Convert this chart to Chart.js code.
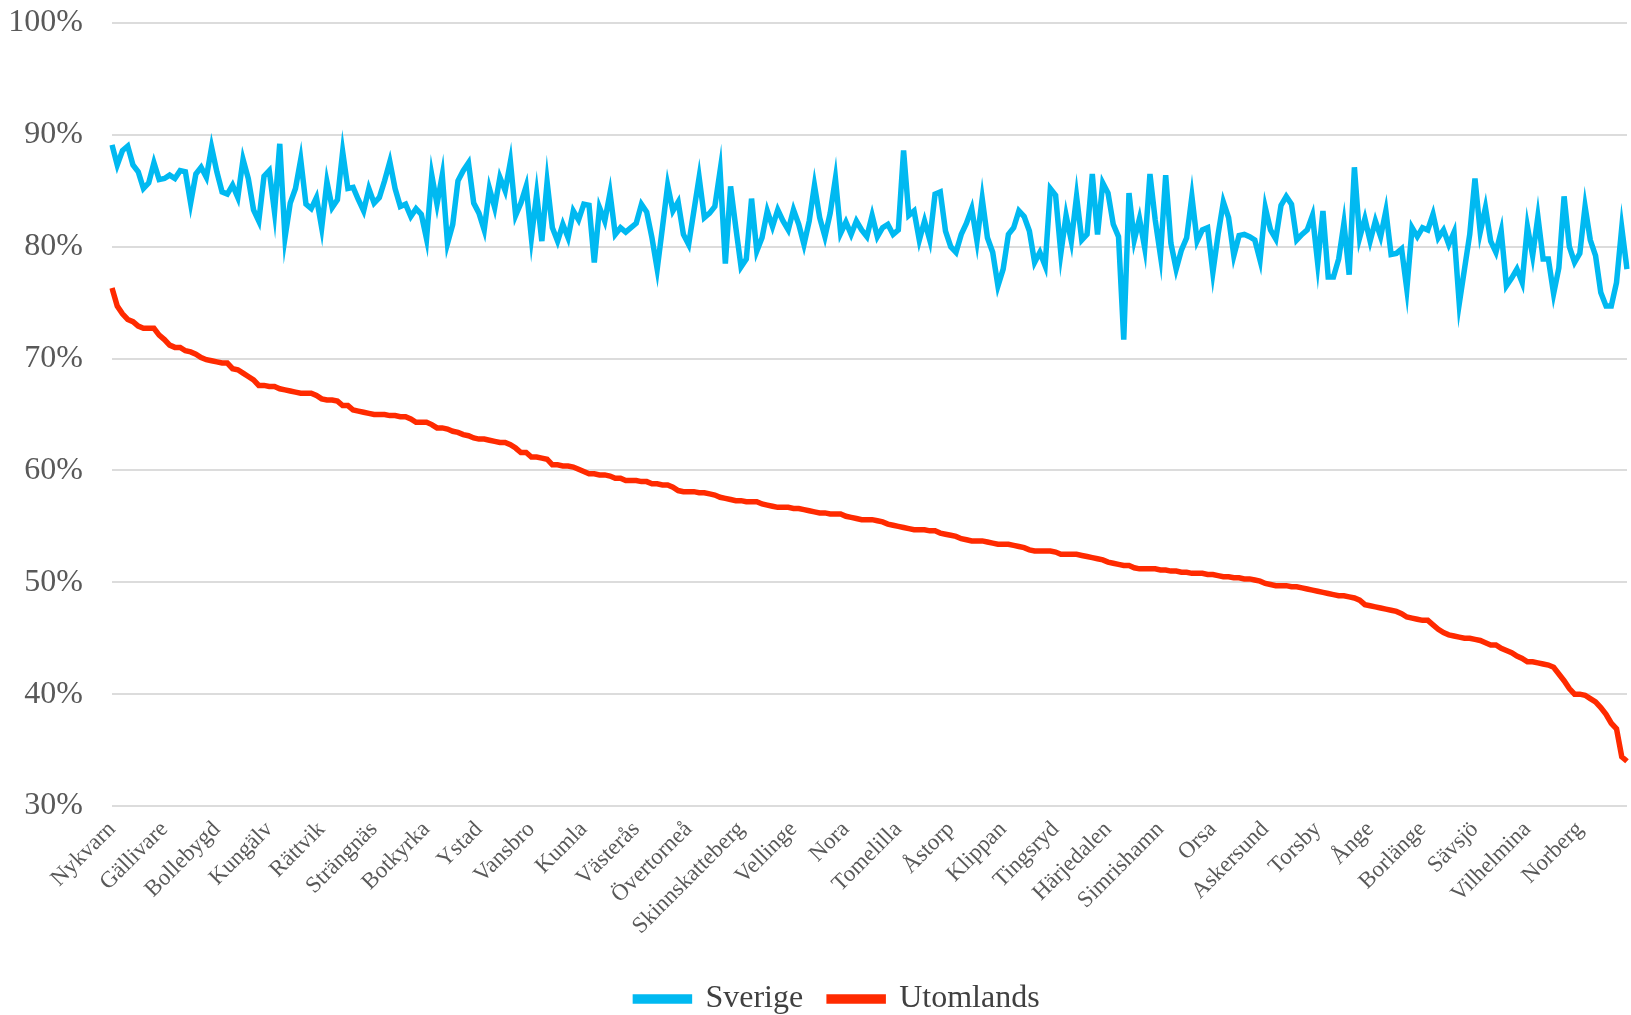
<!DOCTYPE html>
<html>
<head>
<meta charset="utf-8">
<script src="https://cdn.jsdelivr.net/npm/chart.js@4/dist/chart.umd.min.js"></script>
<style>
  html, body { margin: 0; padding: 0; background: #fff; }
  #wrap { width: 1631px; height: 1015px; }
</style>
</head>
<body>
<div id="wrap"><canvas id="chart" width="1631" height="1015"></canvas></div>
<script>
// every 10th municipality is labelled on the axis
const tickNames = ['Nykvarn', 'Gällivare', 'Bollebygd', 'Kungälv', 'Rättvik', 'Strängnäs', 'Botkyrka', 'Ystad',
  'Vansbro', 'Kumla', 'Västerås', 'Övertorneå', 'Skinnskatteberg', 'Vellinge', 'Nora', 'Tomelilla', 'Åstorp',
  'Klippan', 'Tingsryd', 'Härjedalen', 'Simrishamn', 'Orsa', 'Askersund', 'Torsby', 'Ånge', 'Borlänge', 'Sävsjö',
  'Vilhelmina', 'Norberg'];

const sverige = [
  89.1, 87.3, 88.6, 89.0, 87.3, 86.7, 85.2, 85.7, 87.5, 86.0,
  86.1, 86.4, 86.1, 86.8, 86.7, 83.9, 86.5, 87.1, 86.2, 88.9,
  86.7, 84.9, 84.7, 85.5, 84.4, 87.8, 86.1, 83.3, 82.3, 86.3,
  86.8, 83.1, 89.2, 80.8, 83.9, 85.2, 87.8, 83.8, 83.4, 84.4,
  81.7, 85.8, 83.5, 84.2, 88.5, 85.2, 85.3, 84.2, 83.2, 85.2,
  83.9, 84.4, 85.9, 87.6, 85.2, 83.6, 83.8, 82.7, 83.4, 82.9,
  80.7, 86.4, 83.8, 86.4, 80.3, 82.0, 85.9, 86.8, 87.5, 83.9,
  83.0, 81.5, 85.2, 83.5, 86.2, 85.0, 87.6, 82.8, 83.9, 85.4,
  80.8, 84.7, 80.5, 85.8, 81.7, 80.5, 82.0, 80.8, 83.2, 82.4,
  83.8, 83.7, 78.6, 83.5, 82.3, 84.8, 81.1, 81.7, 81.3, 81.7,
  82.1, 83.8, 83.1, 80.8, 78.0, 81.7, 85.5, 83.2, 84.0, 81.1,
  80.2, 83.2, 86.2, 82.6, 83.0, 83.6, 86.8, 78.5, 85.4, 81.7,
  78.2, 78.9, 84.3, 79.6, 80.8, 83.2, 81.8, 83.3, 82.3, 81.5,
  83.3, 82.0, 80.2, 82.3, 85.5, 82.6, 80.9, 83.0, 86.1, 81.2,
  82.2, 81.1, 82.3, 81.5, 80.9, 82.8, 80.9, 81.7, 82.0, 81.1,
  81.5, 88.6, 82.8, 83.2, 80.6, 82.3, 80.6, 84.7, 84.9, 81.4,
  80.0, 79.5, 81.1, 82.1, 83.4, 80.5, 84.3, 80.8, 79.5, 76.5,
  78.0, 81.1, 81.7, 83.2, 82.7, 81.4, 78.6, 79.5, 78.3, 85.2,
  84.6, 79.4, 82.8, 80.5, 84.5, 80.6, 81.1, 86.5, 81.1, 85.7,
  84.8, 82.0, 80.9, 71.7, 84.8, 80.6, 82.5, 79.9, 86.5, 82.4,
  79.2, 86.4, 80.3, 78.0, 79.7, 80.8, 84.5, 80.5, 81.5, 81.7,
  77.7, 81.1, 84.0, 82.6, 79.2, 81.0, 81.1, 80.9, 80.6, 78.8,
  83.5, 81.5, 80.7, 83.7, 84.5, 83.8, 80.6, 81.1, 81.5, 82.8,
  78.5, 83.2, 77.3, 77.3, 78.9, 82.1, 77.5, 87.1, 80.8, 82.5,
  80.5, 82.3, 80.9, 83.2, 79.3, 79.4, 79.8, 76.2, 81.7, 80.9,
  81.7, 81.5, 82.9, 80.8, 81.5, 80.2, 81.3, 74.9, 78.0, 81.1,
  86.1, 81.3, 83.5, 80.5, 79.5, 81.4, 76.5, 77.2, 78.0, 76.8,
  81.8, 79.2, 82.7, 78.9, 78.9, 75.8, 78.1, 84.5, 80.0, 78.6,
  79.4, 83.6, 80.6, 79.2, 75.9, 74.7, 74.7, 76.8, 81.7, 78.0
];

const utomlands = [
  76.3, 74.7, 74.0, 73.5, 73.3, 72.9, 72.7, 72.7, 72.7, 72.1,
  71.7, 71.2, 71.0, 71.0, 70.7, 70.6, 70.4, 70.1, 69.9, 69.8,
  69.7, 69.6, 69.6, 69.1, 69.0, 68.7, 68.4, 68.1, 67.6, 67.6,
  67.5, 67.5, 67.3, 67.2, 67.1, 67.0, 66.9, 66.9, 66.9, 66.7,
  66.4, 66.3, 66.3, 66.2, 65.8, 65.8, 65.4, 65.3, 65.2, 65.1,
  65.0, 65.0, 65.0, 64.9, 64.9, 64.8, 64.8, 64.6, 64.3, 64.3,
  64.3, 64.1, 63.8, 63.8, 63.7, 63.5, 63.4, 63.2, 63.1, 62.9,
  62.8, 62.8, 62.7, 62.6, 62.5, 62.5, 62.3, 62.0, 61.6, 61.6,
  61.2, 61.2, 61.1, 61.0, 60.5, 60.5, 60.4, 60.4, 60.3, 60.1,
  59.9, 59.7, 59.7, 59.6, 59.6, 59.5, 59.3, 59.3, 59.1, 59.1,
  59.1, 59.0, 59.0, 58.8, 58.8, 58.7, 58.7, 58.5, 58.2, 58.1,
  58.1, 58.1, 58.0, 58.0, 57.9, 57.8, 57.6, 57.5, 57.4, 57.3,
  57.3, 57.2, 57.2, 57.2, 57.0, 56.9, 56.8, 56.7, 56.7, 56.7,
  56.6, 56.6, 56.5, 56.4, 56.3, 56.2, 56.2, 56.1, 56.1, 56.1,
  55.9, 55.8, 55.7, 55.6, 55.6, 55.6, 55.5, 55.4, 55.2, 55.1,
  55.0, 54.9, 54.8, 54.7, 54.7, 54.7, 54.6, 54.6, 54.4, 54.3,
  54.2, 54.1, 53.9, 53.8, 53.7, 53.7, 53.7, 53.6, 53.5, 53.4,
  53.4, 53.4, 53.3, 53.2, 53.1, 52.9, 52.8, 52.8, 52.8, 52.8,
  52.7, 52.5, 52.5, 52.5, 52.5, 52.4, 52.3, 52.2, 52.1, 52.0,
  51.8, 51.7, 51.6, 51.5, 51.5, 51.3, 51.2, 51.2, 51.2, 51.2,
  51.1, 51.1, 51.0, 51.0, 50.9, 50.9, 50.8, 50.8, 50.8, 50.7,
  50.7, 50.6, 50.5, 50.5, 50.4, 50.4, 50.3, 50.3, 50.2, 50.1,
  49.9, 49.8, 49.7, 49.7, 49.7, 49.6, 49.6, 49.5, 49.4, 49.3,
  49.2, 49.1, 49.0, 48.9, 48.8, 48.8, 48.7, 48.6, 48.4, 48.0,
  47.9, 47.8, 47.7, 47.6, 47.5, 47.4, 47.2, 46.9, 46.8, 46.7,
  46.6, 46.6, 46.2, 45.8, 45.5, 45.3, 45.2, 45.1, 45.0, 45.0,
  44.9, 44.8, 44.6, 44.4, 44.4, 44.1, 43.9, 43.7, 43.4, 43.2,
  42.9, 42.9, 42.8, 42.7, 42.6, 42.4, 41.8, 41.2, 40.5, 40.0,
  40.0, 39.9, 39.6, 39.3, 38.8, 38.2, 37.4, 36.9, 34.4, 34.0
];

const yMin = 30;
const yMax = 100;
const yStep = 10;

const FONT = "'Liberation Serif', 'Times New Roman', serif";
const BLUE = '#00B9F1';
const RED = '#FF2A00';

const labels = sverige.map((v, i) => (i % 10 === 0 ? tickNames[i / 10] : ''));

// nudge the legend a bit, Excel does not centre it exactly
const legendShift = {
  id: 'legendShift',
  afterLayout(chart) {
    const lg = chart.legend;
    if (!lg) return;
    lg.left += 24; lg.right += 24;
    lg.top += 10; lg.bottom += 10;
  }
};

new Chart(document.getElementById('chart'), {
  type: 'line',
  data: {
    labels: labels,
    datasets: [
      {
        label: 'Sverige',
        data: sverige,
        borderColor: BLUE,
        backgroundColor: BLUE,
        borderWidth: 5.5,
        pointRadius: 0,
        tension: 0
      },
      {
        label: 'Utomlands',
        data: utomlands,
        borderColor: RED,
        backgroundColor: RED,
        borderWidth: 5.5,
        pointRadius: 0,
        tension: 0
      }
    ]
  },
  plugins: [legendShift],
  options: {
    responsive: false,
    animation: false,
    layout: { padding: { top: 23, right: 4, left: 0, bottom: 0 } },
    scales: {
      x: {
        offset: false,
        grid: { display: false },
        border: { display: false },
        afterFit: (s) => { s.height = 141; s.paddingLeft = 0; s.paddingRight = 0; },
        ticks: {
          autoSkip: false,
          maxRotation: 45,
          minRotation: 45,
          padding: 2,
          color: '#595959',
          font: { family: FONT, size: 23 },
          callback: function (value, index) { return labels[index]; }
        }
      },
      y: {
        min: yMin,
        max: yMax,
        afterFit: (s) => { s.width = 112; s.paddingTop = 0; s.paddingBottom = 0; },
        grid: { color: '#dcdcdc', lineWidth: 2, drawTicks: false },
        border: { display: false },
        ticks: {
          stepSize: yStep,
          padding: 29,
          color: '#595959',
          font: { family: FONT, size: 32 },
          callback: (v) => v + '%'
        }
      }
    },
    plugins: {
      tooltip: { enabled: false },
      legend: {
        position: 'bottom',
        labels: {
          boxWidth: 54,
          boxHeight: 4,
          padding: 26,
          color: '#404040',
          font: { family: FONT, size: 32 }
        }
      }
    }
  }
});
</script>
</body>
</html>
